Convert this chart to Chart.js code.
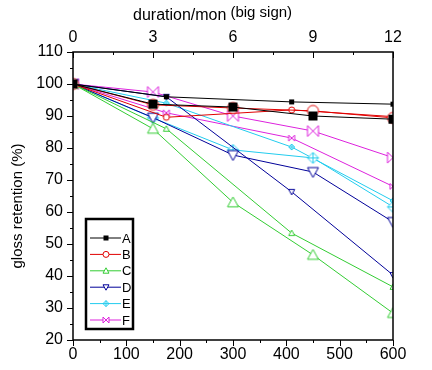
<!DOCTYPE html>
<html lang="en">
<head>
<meta charset="UTF-8">
<title>gloss retention</title>
<style>
  html, body { margin: 0; padding: 0; background: #fff; }
  canvas { display: block; }
</style>
</head>
<body>
<canvas id="chart" width="432" height="370"></canvas>
<script src="https://cdn.jsdelivr.net/npm/chart.js@4/dist/chart.umd.min.js"></script>
<script>
  // big sign -> top axis (months), small sign -> bottom axis (days)
  const monthsBig = [0, 3, 6, 9, 12]
  const daysSmall = [0, 175, 410, 600]
  const names = ['A', 'B', 'C', 'D', 'E', 'F']

  const aBig = [100, 93.7, 92.8, 90.0, 89.0]
  const aSmall = [100, 96.0, 94.4, 93.7]
  const bBig = [100, 93.5, 92.5, 91.6, 89.4]
  const bSmall = [100, 89.6, 91.9, 89.8]
  const cBig = [100, 86.0, 63.0, 46.6, 28.4]
  const cSmall = [100, 86.0, 53.4, 36.6]
  const dBig = [100, 89.5, 77.8, 72.5, 56.9]
  const dSmall = [100, 96.0, 66.3, 40.3]
  const eBig = [100, 89.4, 79.4, 76.9, 61.6]
  const eSmall = [100, 94.0, 80.3, 63.5]
  const fBig = [100, 97.5, 90.0, 85.3, 77.0]
  const fSmall = [100, 91.0, 83.1, 68.0]

  const yTicks = [20, 30, 40, 50, 60, 70, 80, 90, 100, 110]
  const dayTicks = [0, 100, 200, 300, 400, 500, 600]
  const monthTicks = [0, 3, 6, 9, 12]

  const colors = ['#000000', '#e00000', '#33cc33', '#000099', '#22ccee', '#dd22dd']
  const shapes = ['square', 'circle', 'triangle', 'triangleDown', 'diamondPlus', 'bowtie']
  const bigSeries = [aBig, bBig, cBig, dBig, eBig, fBig]
  const smallSeries = [aSmall, bSmall, cSmall, dSmall, eSmall, fSmall]

  const FONT = '"Liberation Sans", Arial, sans-serif'

  // draw one symbol centred at (cx, cy)
  function drawMarker(ctx, shape, cx, cy, s, color) {
    const h = s / 2
    ctx.save()
    ctx.strokeStyle = color
    ctx.fillStyle = '#fff'
    ctx.lineWidth = 1
    ctx.beginPath()
    if (shape === 'square') {
      ctx.fillStyle = color
      ctx.fillRect(cx - h, cy - h, s, s)
    } else if (shape === 'circle') {
      ctx.arc(cx, cy, h, 0, Math.PI * 2)
      ctx.fill(); ctx.stroke()
    } else if (shape === 'triangle') {
      ctx.moveTo(cx, cy - h)
      ctx.lineTo(cx + h, cy + h * 0.8)
      ctx.lineTo(cx - h, cy + h * 0.8)
      ctx.closePath()
      ctx.fill(); ctx.stroke()
    } else if (shape === 'triangleDown') {
      ctx.moveTo(cx, cy + h)
      ctx.lineTo(cx + h, cy - h * 0.8)
      ctx.lineTo(cx - h, cy - h * 0.8)
      ctx.closePath()
      ctx.fill(); ctx.stroke()
    } else if (shape === 'diamondPlus') {
      ctx.moveTo(cx, cy - h)
      ctx.lineTo(cx + h, cy)
      ctx.lineTo(cx, cy + h)
      ctx.lineTo(cx - h, cy)
      ctx.closePath()
      ctx.fill(); ctx.stroke()
      ctx.beginPath()
      ctx.moveTo(cx - h, cy); ctx.lineTo(cx + h, cy)
      ctx.moveTo(cx, cy - h); ctx.lineTo(cx, cy + h)
      ctx.stroke()
    } else if (shape === 'bowtie') {
      ctx.moveTo(cx - h, cy - h)
      ctx.lineTo(cx + h, cy + h)
      ctx.lineTo(cx + h, cy - h)
      ctx.lineTo(cx - h, cy + h)
      ctx.closePath()
      ctx.fill(); ctx.stroke()
    }
    ctx.restore()
  }

  function markerCanvas(shape, s, color) {
    const c = document.createElement('canvas')
    c.width = c.height = s + 4
    drawMarker(c.getContext('2d'), shape, c.width / 2, c.height / 2, s, color)
    return c
  }

  const datasets = []
  names.forEach((n, i) => {
    datasets.push({
      label: n + ' big',
      xAxisID: 'x2',
      data: monthsBig.map((m, k) => ({ x: m, y: bigSeries[i][k] })),
      borderColor: colors[i],
      pointStyle: markerCanvas(shapes[i], shapes[i] === 'square' ? 9 : 11, colors[i]),
      pointRadius: 6
    })
    datasets.push({
      label: n,
      xAxisID: 'x',
      data: daysSmall.map((d, k) => ({ x: d, y: smallSeries[i][k] })),
      borderColor: colors[i],
      pointStyle: markerCanvas(shapes[i], shapes[i] === 'square' ? 5 : 6, colors[i]),
      pointRadius: 3
    })
  })
  datasets.forEach(ds => {
    ds.borderWidth = 1
    ds.tension = 0
    ds.fill = false
    ds.clip = 0
  })

  const frame = {
    id: 'frame',
    afterDatasetsDraw(chart) {
      const { ctx, chartArea: a, scales } = chart
      ctx.save()
      ctx.strokeStyle = '#000'
      ctx.lineWidth = 1.5
      ctx.strokeRect(a.left, a.top, a.right - a.left, a.bottom - a.top)

      // tick marks: left & bottom outward, top inward
      ctx.lineWidth = 1
      ctx.beginPath()
      for (let v = 20; v <= 110; v += 5) {
        const y = Math.round(scales.y.getPixelForValue(v)) + 0.5
        const len = v % 10 ? 3 : 6
        ctx.moveTo(a.left - len, y); ctx.lineTo(a.left, y)
      }
      for (let v = 0; v <= 600; v += 50) {
        const x = Math.round(scales.x.getPixelForValue(v)) + 0.5
        const len = v % 100 ? 3 : 6
        ctx.moveTo(x, a.bottom); ctx.lineTo(x, a.bottom + len)
      }
      for (let v = 0; v <= 12; v += 1.5) {
        const x = Math.round(scales.x2.getPixelForValue(v)) + 0.5
        const len = v % 3 ? 3 : 6
        ctx.moveTo(x, a.top); ctx.lineTo(x, a.top + len)
      }
      ctx.stroke()

      // axis titles
      ctx.fillStyle = '#000'
      ctx.textBaseline = 'alphabetic'
      ctx.textAlign = 'left'
      ctx.font = '16px ' + FONT
      const t1 = 'duration/mon'
      const tx = a.left + 60
      ctx.fillText(t1, tx, 20)
      const w1 = ctx.measureText(t1).width
      ctx.font = '15px ' + FONT
      ctx.fillText('(big sign)', tx + w1 + 4, 17)

      ctx.save()
      ctx.translate(18, 206)
      ctx.rotate(-Math.PI / 2)
      ctx.textAlign = 'center'
      ctx.textBaseline = 'middle'
      ctx.fillText('gloss retention (%)', 0, 0)
      ctx.restore()

      // legend box
      const lx = a.left + 13, ly = a.top + 167
      ctx.lineWidth = 2.5
      ctx.strokeRect(lx, ly, 47, 110)
      ctx.font = '13px ' + FONT
      ctx.textBaseline = 'middle'
      names.forEach((n, i) => {
        const y = ly + 19 + i * 16.4
        ctx.strokeStyle = colors[i]
        ctx.lineWidth = 1
        ctx.beginPath()
        ctx.moveTo(lx + 4, y); ctx.lineTo(lx + 35, y)
        ctx.stroke()
        drawMarker(ctx, shapes[i], lx + 20, y, shapes[i] === 'square' ? 5 : 6, colors[i])
        ctx.fillStyle = '#000'
        ctx.fillText(n, lx + 36, y + 1)
      })
      ctx.restore()
    }
  }

  Chart.defaults.font.family = FONT
  Chart.defaults.font.size = 16
  Chart.defaults.color = '#000'

  new Chart(document.getElementById('chart'), {
    type: 'line',
    data: { datasets },
    options: {
      responsive: false,
      animation: false,
      events: [],
      layout: { padding: { left: 0, right: 39, top: 0, bottom: 0 } },
      plugins: { legend: { display: false }, tooltip: { enabled: false } },
      scales: {
        x: {
          type: 'linear', position: 'bottom', min: 0, max: 600,
          grid: { display: false, drawTicks: false },
          border: { display: false },
          ticks: { padding: 5, maxRotation: 0 },
          afterBuildTicks: s => { s.ticks = dayTicks.map(v => ({ value: v })) },
          afterFit: s => { s.height = 30 }
        },
        x2: {
          type: 'linear', position: 'top', min: 0, max: 12,
          grid: { display: false, drawTicks: false },
          border: { display: false },
          ticks: { padding: 5, maxRotation: 0 },
          afterBuildTicks: s => { s.ticks = monthTicks.map(v => ({ value: v })) },
          afterFit: s => { s.height = 52 }
        },
        y: {
          type: 'linear', position: 'left', min: 20, max: 110,
          grid: { display: false, drawTicks: false },
          border: { display: false },
          ticks: { padding: 10 },
          afterBuildTicks: s => { s.ticks = yTicks.map(v => ({ value: v })) },
          afterFit: s => { s.width = 73 }
        }
      }
    },
    plugins: [frame]
  })
</script>
</body>
</html>
